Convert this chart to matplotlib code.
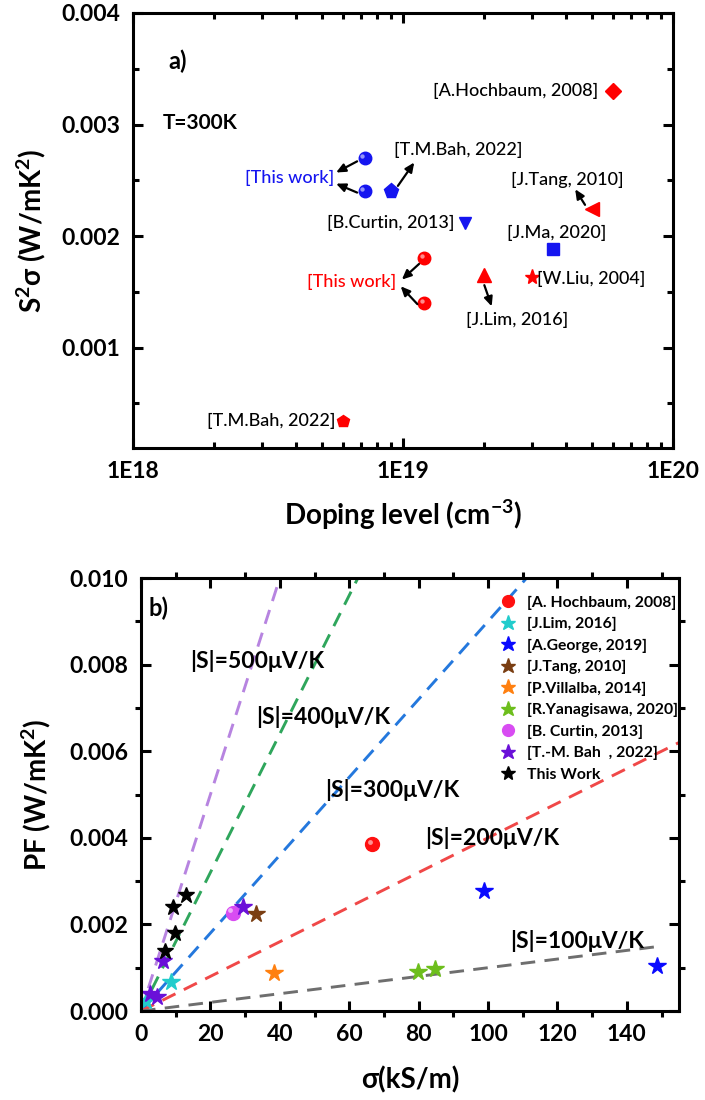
import matplotlib
matplotlib.use("Agg")
import matplotlib.pyplot as plt
import matplotlib.ticker as mticker
import matplotlib.transforms as mtransforms
import numpy as np

plt.rcParams['font.family'] = ['Lato', 'DejaVu Sans']
plt.rcParams['mathtext.fontset'] = 'custom'
plt.rcParams['mathtext.rm'] = 'Lato'
plt.rcParams['mathtext.bf'] = 'Lato:bold'

# ---------------- Panel a data ----------------
this_blue_doping = [7.2e18, 7.2e18]
this_blue_pf = [0.0027, 0.0024]
bah_blue_doping = [9.0e18]
bah_blue_pf = [0.0024]
curtin_doping = [1.7e19]
curtin_pf = [0.00212]
hochbaum_doping = [6.0e19]
hochbaum_pf = [0.0033]
tang_doping = [5.0e19]
tang_pf = [0.00224]
ma_doping = [3.6e19]
ma_pf = [0.00188]
liu_doping = [3.0e19]
liu_pf = [0.00163]
lim_doping = [2.0e19]
lim_pf = [0.00165]
this_red_doping = [1.2e19, 1.2e19]
this_red_pf = [0.0018, 0.0014]
bah_red_doping = [6.0e18]
bah_red_pf = [0.00034]

a_xticks = [1e18, 1e19, 1e20]
a_xticklabels = ['1E18', '1E19', '1E20']
a_yticks = [0.001, 0.002, 0.003, 0.004]

# ---------------- Panel b data ----------------
seebeck_lines = [500, 400, 300, 200, 100]          # µV/K
line_colors = ['#B784E0', '#2FA65C', '#2478DD', '#F04848', '#6E6E6E']
line_label_pos = [(14.2, 0.00809), (33.2, 0.00678), (53.0, 0.0051), (82.0, 0.0040), (106.5, 0.00161)]
sigma_line_max = [155, 155, 155, 155, 150]

b_hochbaum_s = [66.7]; b_hochbaum_pf = [0.00385]
b_lim_s = [1.4, 8.6]; b_lim_pf = [0.00024, 0.00066]
b_george_s = [98.8, 148.8]; b_george_pf = [0.00277, 0.00104]
b_tang_s = [33.1]; b_tang_pf = [0.00225]
b_villalba_s = [38.2]; b_villalba_pf = [0.00087]
b_yana_s = [79.7, 84.8]; b_yana_pf = [0.00091, 0.00097]
b_curtin_s = [26.5]; b_curtin_pf = [0.00227]
b_bah_s = [2.6, 4.5, 6.2, 29.5]; b_bah_pf = [0.0004, 0.00033, 0.00116, 0.0024]
b_this_s = [6.9, 9.8, 9.2, 13.1]; b_this_pf = [0.00139, 0.00181, 0.0024, 0.00267]

fig = plt.figure(figsize=(7.05, 11.0), dpi=100)


def sphere(ax, x, y, color, ms):
    """Draw shaded-sphere style markers: base circle plus a small highlight."""
    h, = ax.plot(x, y, 'o', color=color, ms=ms, ls='none')
    off = mtransforms.offset_copy(ax.transData, fig=fig, x=-ms * 0.18, y=ms * 0.18, units='points')
    ax.plot(x, y, 'o', color='white', alpha=0.55, ms=ms * 0.35, ls='none', mec='none', transform=off)
    return h


# ================= Panel a =================
ax1 = fig.add_axes([0.1887, 0.5927, 0.7660, 0.3955])
ax1.set_xscale('log')
ax1.set_xlim(1e18, 1e20)
ax1.set_ylim(0.0001, 0.004)

sphere(ax1, this_blue_doping, this_blue_pf, '#1515F0', 9)
ax1.plot(bah_blue_doping, bah_blue_pf, 'p', color='#1515F0', ms=11, ls='none')
ax1.plot(curtin_doping, curtin_pf, 'v', color='#1515F0', ms=9, ls='none')
ax1.plot(ma_doping, ma_pf, 's', color='#1515F0', ms=8, ls='none')
ax1.plot(hochbaum_doping, hochbaum_pf, 'D', color='#FF0000', ms=8, ls='none')
ax1.plot(tang_doping, tang_pf, '<', color='#FF0000', ms=10, ls='none')
ax1.plot(liu_doping, liu_pf, '*', color='#FF0000', ms=11, ls='none')
ax1.plot(lim_doping, lim_pf, '^', color='#FF0000', ms=10, ls='none')
sphere(ax1, this_red_doping, this_red_pf, '#FF0000', 9)
ax1.plot(bah_red_doping, bah_red_pf, 'p', color='#FF0000', ms=9, ls='none')

tfs = 13
tw = 'medium'
ax1.text(1.35e18, 0.00357, 'a)', fontsize=17, fontweight='bold', va='center', ha='left')
ax1.text(1.29e18, 0.00301, 'T=300K', fontsize=15, fontweight='bold', va='center', ha='left')
ax1.text(5.3e19, 0.0033, '[A.Hochbaum, 2008]', fontsize=tfs, fontweight=tw, va='center', ha='right')
ax1.text(5.55e18, 0.00252, '[This work]', fontsize=tfs, fontweight=tw, va='center', ha='right', color='#1515F0')
ax1.text(9.27e18, 0.00277, '[T.M.Bah, 2022]', fontsize=tfs, fontweight=tw, va='center', ha='left')
ax1.text(1.55e19, 0.00212, '[B.Curtin, 2013]', fontsize=tfs, fontweight=tw, va='center', ha='right')
ax1.text(2.51e19, 0.0025, '[J.Tang, 2010]', fontsize=tfs, fontweight=tw, va='center', ha='left')
ax1.text(3.72e19, 0.00203, '[J.Ma, 2020]', fontsize=tfs, fontweight=tw, va='center', ha='center')
ax1.text(3.14e19, 0.00162, '[W.Liu, 2004]', fontsize=tfs, fontweight=tw, va='center', ha='left')
ax1.text(9.42e18, 0.00159, '[This work]', fontsize=tfs, fontweight=tw, va='center', ha='right', color='#FF0000')
ax1.text(2.64e19, 0.00125, '[J.Lim, 2016]', fontsize=tfs, fontweight=tw, va='center', ha='center')
ax1.text(5.6e18, 0.00034, '[T.M.Bah, 2022]', fontsize=tfs, fontweight=tw, va='center', ha='right')

arrows = [
    ((5.65e18, 0.00257), (6.76e18, 0.00267)),
    ((5.65e18, 0.00247), (6.76e18, 0.00239)),
    ((1.10e19, 0.00266), (9.57e18, 0.00245)),
    ((4.34e19, 0.00242), (4.72e19, 0.00228)),
    ((9.9e18, 0.00161), (1.146e19, 0.00175)),
    ((9.8e18, 0.00155), (1.13e19, 0.00139)),
    ((2.13e19, 0.00137), (2.0e19, 0.00156)),
]
for head, tail in arrows:
    ax1.annotate('', xy=head, xytext=tail,
                 arrowprops=dict(arrowstyle='-|>,head_length=0.55,head_width=0.25',
                                 color='black', lw=1.6, shrinkA=0, shrinkB=0))

ax1.set_xticks(a_xticks)
ax1.set_xticklabels(a_xticklabels)
ax1.xaxis.set_minor_locator(mticker.LogLocator(base=10, subs=np.arange(2, 10)))
ax1.xaxis.set_minor_formatter(mticker.NullFormatter())
ax1.set_yticks(a_yticks)
ax1.yaxis.set_major_formatter(mticker.FormatStrFormatter('%.3f'))
ax1.yaxis.set_minor_locator(mticker.MultipleLocator(0.0005))
ax1.tick_params(which='both', direction='in', top=True, right=True, width=2.2)
ax1.tick_params(which='major', length=7, labelsize=16.5, pad=9)
ax1.tick_params(which='minor', length=4)
for lab in ax1.get_xticklabels() + ax1.get_yticklabels():
    lab.set_fontweight('bold')
for sp in ax1.spines.values():
    sp.set_linewidth(2.2)
ax1.set_xlabel(r'Doping level (cm$^{\mathbf{-3}}$)', fontsize=20, fontweight='bold', labelpad=11)
ax1.set_ylabel(r'S$^{\mathbf{2}}$σ (W/mK$^{\mathbf{2}}$)', fontsize=20, fontweight='bold', labelpad=10)

# ================= Panel b =================
ax2 = fig.add_axes([0.2000, 0.0809, 0.7630, 0.3936])
ax2.set_xlim(0, 155)
ax2.set_ylim(0, 0.010)

for S, c, smax, (lx, ly) in zip(seebeck_lines, line_colors, sigma_line_max, line_label_pos):
    sig = np.linspace(0, smax, 400)
    pf = (S * 1e-6) ** 2 * sig * 1e3
    ax2.plot(sig, pf, color=c, lw=2.1, ls=(0, (5, 3.2)))
    ax2.text(lx, ly, '|S|=%dμV/K' % S, fontsize=16.5, fontweight='bold', ha='left', va='center')

h1 = sphere(ax2, b_hochbaum_s, b_hochbaum_pf, '#FF1010', 10)
h2, = ax2.plot(b_lim_s, b_lim_pf, '*', color='#22CCCC', ms=13, ls='none')
h3, = ax2.plot(b_george_s, b_george_pf, '*', color='#0A0AFF', ms=13, ls='none')
h4, = ax2.plot(b_tang_s, b_tang_pf, '*', color='#7A3E12', ms=13, ls='none')
h5, = ax2.plot(b_villalba_s, b_villalba_pf, '*', color='#FF8010', ms=13, ls='none')
h6, = ax2.plot(b_yana_s, b_yana_pf, '*', color='#6DBE1C', ms=13, ls='none')
h7 = sphere(ax2, b_curtin_s, b_curtin_pf, '#D84CF2', 10)
h8, = ax2.plot(b_bah_s, b_bah_pf, '*', color='#6A10D8', ms=13, ls='none')
h9, = ax2.plot(b_this_s, b_this_pf, '*', color='black', ms=12, ls='none')

ax2.text(2.3, 0.00929, 'b)', fontsize=17, fontweight='bold', ha='left', va='center')

leg_labels = ['[A. Hochbaum, 2008]', '[J.Lim, 2016]', '[A.George, 2019]', '[J.Tang, 2010]',
              '[P.Villalba, 2014]', '[R.Yanagisawa, 2020]', '[B. Curtin, 2013]',
              '[T.-M. Bah  , 2022]', 'This Work']
leg = ax2.legend([h1, h2, h3, h4, h5, h6, h7, h8, h9], leg_labels, loc='upper left',
                 bbox_to_anchor=(0.645, 0.985), frameon=False, fontsize=11.3,
                 labelspacing=0.47, handletextpad=0.6, handlelength=1.2, borderpad=0.2,
                 markerscale=0.85)
for t in leg.get_texts():
    t.set_fontweight('bold')

ax2.xaxis.set_major_locator(mticker.MultipleLocator(20))
ax2.xaxis.set_minor_locator(mticker.MultipleLocator(10))
ax2.yaxis.set_major_locator(mticker.MultipleLocator(0.002))
ax2.yaxis.set_minor_locator(mticker.MultipleLocator(0.001))
ax2.yaxis.set_major_formatter(mticker.FormatStrFormatter('%.3f'))
ax2.tick_params(which='both', top=True, right=True, width=2.2)
ax2.tick_params(which='major', direction='in', length=7, labelsize=16.5, pad=9)
ax2.tick_params(which='minor', direction='out', length=4)
for lab in ax2.get_xticklabels() + ax2.get_yticklabels():
    lab.set_fontweight('bold')
for sp in ax2.spines.values():
    sp.set_linewidth(2.2)
ax2.set_xlabel('σ(kS/m)', fontsize=20, fontweight='bold', labelpad=16)
ax2.set_ylabel(r'PF (W/mK$^{\mathbf{2}}$)', fontsize=20, fontweight='bold', labelpad=12)

fig.savefig('out.png', dpi=100)
